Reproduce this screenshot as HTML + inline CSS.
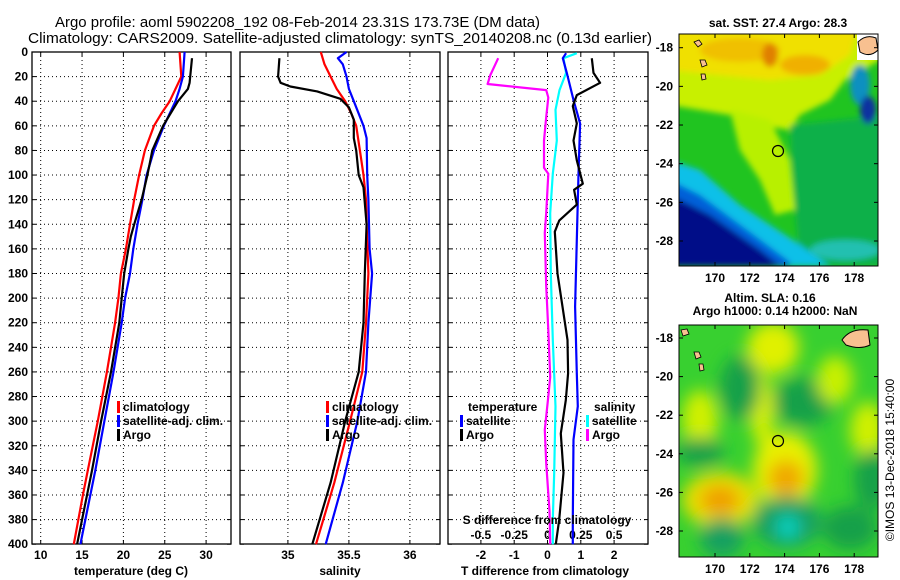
<!DOCTYPE html>
<html><head><meta charset="utf-8"><style>
html,body{margin:0;padding:0;background:#fff;width:900px;height:580px;overflow:hidden}
svg text{font-family:"Liberation Sans",sans-serif;font-weight:bold;font-size:12px;fill:#000}
</style></head><body>
<svg id="fig" width="900" height="580" viewBox="0 0 900 580" xmlns="http://www.w3.org/2000/svg">
<defs>
<filter id="blur1" x="-50%" y="-50%" width="200%" height="200%"><feGaussianBlur stdDeviation="3"/></filter>
<filter id="blur2" x="-50%" y="-50%" width="200%" height="200%"><feGaussianBlur stdDeviation="8"/></filter>
<clipPath id="clipTop"><rect x="679" y="34" width="199" height="232"/></clipPath>
<clipPath id="clipBot"><rect x="679" y="325" width="199" height="232"/></clipPath>
</defs>
<text x="55" y="27" textLength="485" lengthAdjust="spacingAndGlyphs" style="font-size:15px;font-weight:normal">Argo profile: aoml 5902208_192 08-Feb-2014 23.31S 173.73E (DM data)</text>
<text x="28" y="43" textLength="624" lengthAdjust="spacingAndGlyphs" style="font-size:15px;font-weight:normal">Climatology: CARS2009. Satellite-adjusted climatology: synTS_20140208.nc (0.13d earlier)</text>

<g id="p1"></g>
<g id="p2"></g>
<g id="p3"></g>

<!-- top map -->
<g>
<text x="778" y="27" text-anchor="middle">sat. SST: 27.4 Argo: 28.3</text>
<g clip-path="url(#clipTop)">
<rect x="679" y="34" width="199" height="232" fill="#20c420"/>
<g filter="url(#blur1)">
<polygon points="670,20 890,20 880,60 845,80 830,100 800,115 790,130 760,125 730,115 700,110 670,105" fill="#c8f000"/>
<polygon points="670,20 860,20 850,55 820,75 770,80 720,75 670,70" fill="#f0e000"/>
<ellipse cx="740" cy="50" rx="40" ry="12" fill="#f0c000"/>
<ellipse cx="770" cy="55" rx="8" ry="12" fill="#e08000"/>
<ellipse cx="805" cy="65" rx="25" ry="10" fill="#f0b000"/>
<polygon points="730,110 770,120 790,160 795,210 775,215 760,180 740,150" fill="#b8f000"/>
<polygon points="790,125 890,115 890,266 800,266 795,210" fill="#10b048"/>
<polygon points="670,160 700,170 740,205 790,238 830,266 670,266" fill="#10c0e8"/>
<polygon points="670,180 700,195 750,232 790,262 790,266 670,266" fill="#0060d8"/>
<polygon points="670,195 710,215 760,250 780,266 670,266" fill="#000c88"/>
<ellipse cx="860" cy="85" rx="10" ry="20" fill="#1090c0"/>
<ellipse cx="868" cy="110" rx="8" ry="14" fill="#0830a0"/>
<ellipse cx="845" cy="250" rx="35" ry="10" fill="#20c0b0"/>
</g>
<rect x="857" y="34" width="21" height="26" fill="#fff"/>
<path d="M858,42 Q866,34 876,38 L878,50 Q870,58 860,52 Z" fill="#f8c090" stroke="#000" stroke-width="1"/>
<path d="M694,42 l5,-2 3,4 -4,3z M700,60 l5,0 2,5 -5,2z M701,74 l4,0 1,5 -4,1z" fill="#f8c090" stroke="#000" stroke-width="0.8"/>
</g>
<rect x="679" y="34" width="199" height="232" fill="none" stroke="#000" stroke-width="1"/>
<circle cx="778" cy="151" r="5.5" fill="none" stroke="#000" stroke-width="1.2"/>
<g id="mapTopAxes"></g>
</g>

<!-- bottom map -->
<g>
<text x="770" y="302" text-anchor="middle">Altim. SLA: 0.16</text>
<text x="775" y="315" text-anchor="middle">Argo h1000: 0.14 h2000: NaN</text>
<g clip-path="url(#clipBot)">
<rect x="679" y="325" width="199" height="232" fill="#38d030"/>
<g filter="url(#blur2)">
<ellipse cx="773" cy="348" rx="26" ry="26" fill="#e0f000"/>
<ellipse cx="762" cy="410" rx="12" ry="35" fill="#d8f000"/>
<ellipse cx="740" cy="388" rx="20" ry="32" fill="#18a048"/>
<ellipse cx="803" cy="402" rx="30" ry="24" fill="#18a048"/>
<ellipse cx="700" cy="420" rx="18" ry="30" fill="#d0f000"/>
<ellipse cx="700" cy="452" rx="24" ry="14" fill="#18a048"/>
<ellipse cx="785" cy="470" rx="32" ry="38" fill="#e8f000"/>
<ellipse cx="786" cy="478" rx="18" ry="18" fill="#f0a800"/>
<ellipse cx="720" cy="500" rx="38" ry="28" fill="#e8e000"/>
<ellipse cx="720" cy="500" rx="20" ry="15" fill="#f0a000"/>
<ellipse cx="787" cy="522" rx="34" ry="26" fill="#18a060"/>
<ellipse cx="788" cy="527" rx="12" ry="12" fill="#10d0c0"/>
<ellipse cx="722" cy="538" rx="22" ry="20" fill="#18a060"/>
<ellipse cx="835" cy="380" rx="18" ry="24" fill="#c8f000"/>
<ellipse cx="868" cy="430" rx="18" ry="28" fill="#d0f000"/>
<ellipse cx="872" cy="480" rx="18" ry="30" fill="#18a048"/>
<ellipse cx="850" cy="528" rx="28" ry="22" fill="#18a048"/>
</g>
<path d="M842,340 Q850,328 868,330 L870,345 Q860,350 846,345 Z" fill="#f8c090" stroke="#000" stroke-width="1"/>
<path d="M681,330 l6,-1 2,5 -6,2z M694,352 l5,0 2,5 -5,2z M699,364 l4,0 1,6 -4,1z" fill="#f8c090" stroke="#000" stroke-width="0.8"/>
</g>
<rect x="679" y="325" width="199" height="232" fill="none" stroke="#000" stroke-width="1"/>
<circle cx="778" cy="441" r="5.5" fill="none" stroke="#000" stroke-width="1.2"/>
<g id="mapBotAxes"></g>
</g>
<text transform="translate(894,460) rotate(-90)" text-anchor="middle" style="font-weight:normal">©IMOS 13-Dec-2018 15:40:00</text>
</svg>
<script>
// ---------- data ----------
const depthTicks = [0,20,40,60,80,100,120,140,160,180,200,220,240,260,280,300,320,340,360,380,400];
const tempTicks = [10,15,20,25,30];
const salTicks = [35,35.5,36];
const tdiffTicks = [-2,-1,0,1,2];
const sdiffTicks = [-0.5,-0.25,0,0.25,0.5];
const sdiffTickLabels = ['-0.5','-0.25','0','0.25','0.5'];

const tClimDepth = [0,20,40,50,60,80,100,120,140,160,180,200,220,260,300,340,360,400];
const tClimVal   = [26.8,27.0,25.6,24.6,23.7,22.6,21.9,21.3,20.8,20.3,19.7,19.4,19.0,18.0,16.9,15.7,15.1,14.0];
const tSatDepth  = [0,20,30,40,60,80,100,120,140,160,180,200,220,260,300,340,400];
const tSatVal    = [27.4,27.2,26.8,26.3,24.9,23.7,22.8,22.3,21.7,21.2,20.8,20.2,19.8,18.8,17.7,16.6,14.8];
const tArgoDepth = [5,25,30,40,60,80,90,100,120,140,150,160,180,200,220,260,300,340,400];
const tArgoVal   = [28.3,28.0,27.8,26.6,24.8,23.5,23.2,22.9,22.2,21.3,20.9,20.6,20.1,19.8,19.5,18.5,17.3,16.2,14.4];

const sClimDepth = [0,10,20,30,40,50,60,80,100,120,140,180,220,260,300,350,400];
const sClimVal   = [35.27,35.30,35.35,35.40,35.47,35.52,35.56,35.59,35.62,35.64,35.645,35.66,35.64,35.61,35.51,35.38,35.23];
const sSatDepth  = [0,5,10,20,30,40,60,70,100,120,160,180,220,260,300,350,400];
const sSatVal    = [35.48,35.41,35.45,35.48,35.50,35.54,35.62,35.645,35.65,35.66,35.67,35.69,35.66,35.64,35.57,35.45,35.31];
const sArgoDepth = [5,20,25,28,32,38,45,55,70,80,100,110,140,180,220,260,300,350,400];
const sArgoVal   = [34.93,34.92,34.94,35.02,35.24,35.43,35.50,35.54,35.54,35.56,35.58,35.62,35.645,35.63,35.62,35.58,35.47,35.35,35.20];

const dTSatDepth = [1,5,17,39,58,99,153,207,261,288,315,380,400];
const dTSatVal   = [0.56,0.46,0.58,0.78,0.98,0.93,0.88,0.83,0.88,0.91,0.78,0.76,0.76];
const dTArgoDepth = [5,17,25,35,44,58,72,88,107,112,124,137,146,180,207,234,261,283,310,342,380,400];
const dTArgoVal   = [1.33,1.38,1.58,0.88,0.76,0.88,0.78,0.88,1.06,0.80,0.88,0.35,0.22,0.30,0.45,0.60,0.62,0.55,0.40,0.48,0.35,0.25];
const dSSatDepth = [1,5,17,31,47,72,99,131,180,234,288,342,380,400];
const dSSatVal   = [0.22,0.12,0.14,0.09,0.06,0.07,0.04,0.02,0.025,0.04,0.06,0.05,0.04,0.04];
const dSArgoDepth = [5,19,26,31,37,53,72,94,99,131,147,190,226,264,280,307,334,373,400];
const dSArgoVal   = [-0.37,-0.43,-0.45,-0.01,0.006,-0.01,-0.026,-0.026,0.006,-0.01,-0.02,-0.01,0.006,0.02,0.006,-0.02,-0.01,0.015,0.02];

const lonTicks = [170,172,174,176,178];
const latTicks = [-18,-20,-22,-24,-26,-28];

// ---------- drawing ----------
const NS='http://www.w3.org/2000/svg';
const Y0=52, YS=1.2305, TOP=52, BOT=544;
const yD = d => Y0 + d*YS;
function mk(parent, tag, attrs){const e=document.createElementNS(NS,tag);for(const k in attrs)e.setAttribute(k,attrs[k]);parent.appendChild(e);return e;}
function txt(parent,x,y,s,anchor){const t=mk(parent,'text',{x:x,y:y,'text-anchor':anchor||'middle'});t.textContent=s;return t;}

function panel(g, x0, x1, xScale, ticks, labels, showDepth){
  const box=mk(g,'rect',{x:x0,y:TOP,width:x1-x0,height:BOT-TOP,fill:'none',stroke:'#000','stroke-width':1.3});
  
  
  depthTicks.forEach(d=>{
    if(d>0&&d<400){const l=mk(g,'line',{x1:x0,x2:x1,y1:yD(d),y2:yD(d),stroke:'#000','stroke-dasharray':'1,3','stroke-width':1});
      
      }
    mk(g,'line',{x1:x0,x2:x0+4,y1:yD(d),y2:yD(d),stroke:'#000'});
    mk(g,'line',{x1:x1-4,x2:x1,y1:yD(d),y2:yD(d),stroke:'#000'});
    if(showDepth){const t=txt(g,x0-4,yD(d)+4,String(d),'end');
      
      }
  });
  ticks.forEach((v,i)=>{
    const x=xScale(v);
    const l=mk(g,'line',{x1:x,x2:x,y1:TOP,y2:BOT,stroke:'#000','stroke-dasharray':'1,3','stroke-width':1});
    
    
    mk(g,'line',{x1:x,x2:x,y1:BOT-4,y2:BOT,stroke:'#000'});
    mk(g,'line',{x1:x,x2:x,y1:TOP,y2:TOP+4,stroke:'#000'});
    if(labels){const t=txt(g,x,559,labels[i]);
      
      }
  });
}
function line(g, xs, ds, xScale, color, name){
  const pts=ds.map((d,i)=>xScale(xs[i]).toFixed(1)+','+yD(d).toFixed(1)).join(' ');
  const p=mk(g,'polyline',{points:pts,fill:'none',stroke:color,'stroke-width':2.2,'stroke-linejoin':'round'});
  
  
}
function legend(g,x,y,items){
  items.forEach((it,i)=>{
    const yy=y+i*14;
    mk(g,'rect',{x:x,y:yy-10,width:3,height:12,fill:it[1]});
    const t=txt(g,x+6,yy,it[0],'start');
    
    
  });
}

// Panel 1
const g1=document.getElementById('p1');
const xT = v => 40.7 + (v-10)*8.27;
panel(g1,32,231,xT,tempTicks,tempTicks.map(String),true);
line(g1,tClimVal,tClimDepth,xT,'#f00','temp-climatology-line');
line(g1,tSatVal,tSatDepth,xT,'#00f','temp-satellite-line');
line(g1,tArgoVal,tArgoDepth,xT,'#000','temp-argo-line');
legend(g1,117,411,[['climatology','#f00'],['satellite-adj. clim.','#00f'],['Argo','#000']]);
let t=txt(g1,131,575,'temperature (deg C)');



// Panel 2
const g2=document.getElementById('p2');
const xS = v => 287.9 + (v-35)*122;
panel(g2,240,440,xS,salTicks,salTicks.map(String),false);
line(g2,sClimVal,sClimDepth,xS,'#f00','sal-climatology-line');
line(g2,sSatVal,sSatDepth,xS,'#00f','sal-satellite-line');
line(g2,sArgoVal,sArgoDepth,xS,'#000','sal-argo-line');
legend(g2,326,411,[['climatology','#f00'],['satellite-adj. clim.','#00f'],['Argo','#000']]);
t=txt(g2,340,575,'salinity');



// Panel 3
const g3=document.getElementById('p3');
const xDT = v => 547.5 + v*33.3;
const xDS = v => 547.5 + v*133.2;
panel(g3,448,648,xDT,tdiffTicks,tdiffTicks.map(String),false);
sdiffTicks.forEach((v,i)=>{const tt=txt(g3,xDS(v),539,sdiffTickLabels[i]);
  
  });
line(g3,dSArgoVal,dSArgoDepth,xDS,'#f0f','sdiff-argo-line');
line(g3,dSSatVal,dSSatDepth,xDS,'#0ff','sdiff-satellite-line');
line(g3,dTSatVal,dTSatDepth,xDT,'#00f','tdiff-satellite-line');
line(g3,dTArgoVal,dTArgoDepth,xDT,'#000','tdiff-argo-line');
t=txt(g3,468,411,'temperature','start');


legend(g3,460,425,[['satellite','#00f'],['Argo','#000']]);
t=txt(g3,594,411,'salinity','start');


legend(g3,586,425,[['satellite','#0ff'],['Argo','#f0f']]);
t=txt(g3,547,524,'S difference from climatology');


t=txt(g3,545,575,'T difference from climatology');



// Map axes
function mapAxes(id, top, bot, latY){
  const g=document.getElementById(id);
  lonTicks.forEach(l=>{const x=715+(l-170)*17.4;
    mk(g,'line',{x1:x,x2:x,y1:bot-4,y2:bot,stroke:'#000'});
    mk(g,'line',{x1:x,x2:x,y1:top,y2:top+4,stroke:'#000'});
    const tt=txt(g,x,bot+16,String(l));
    
    });
  latTicks.forEach(l=>{const y=latY(l);
    mk(g,'line',{x1:679,x2:683,y1:y,y2:y,stroke:'#000'});
    mk(g,'line',{x1:874,x2:878,y1:y,y2:y,stroke:'#000'});
    const tt=txt(g,673,y+4,String(l),'end');
    
    });
}
mapAxes('mapTopAxes',34,266,l=>47.7+(-18-l)*19.33);
mapAxes('mapBotAxes',325,557,l=>338+(-18-l)*19.3);
</script>
</body></html>
